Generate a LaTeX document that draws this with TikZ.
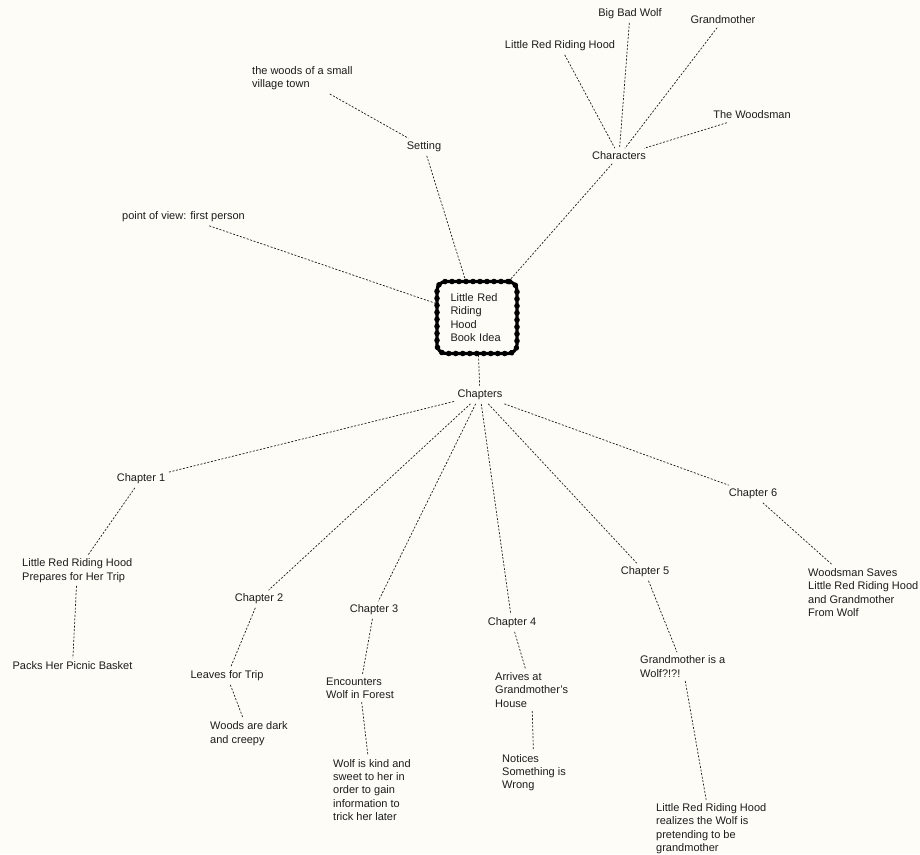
\documentclass[tikz,border=0pt]{standalone}
\usepackage{fontspec}
\setmainfont{Liberation Sans}
\usetikzlibrary{decorations.markings}
\definecolor{bgcream}{RGB}{253,252,246}
\definecolor{inkc}{RGB}{28,28,28}
\begin{document}
\begin{tikzpicture}[x=1pt,y=-1pt,
  every node/.style={font=\fontsize{11}{13.3}\selectfont, text=inkc, inner sep=3.5pt},
  ml/.style={align=left, anchor=west},
  link/.style={draw=inkc, line width=0.7pt, dash pattern=on 2pt off 1.6pt},
  bookidea/.style={draw=black, line width=3.2pt, rounded corners=9pt,
    minimum width=80pt, minimum height=72pt, text width=53pt, align=left, inner sep=0pt,
    postaction={decorate, decoration={markings,
      mark=between positions 0 and 1 step 7pt with {\fill[black] (0,0) circle (2.8pt);}}}}
]
\fill[bgcream] (0,0) rectangle (920,854);
\useasboundingbox (0,0) rectangle (920,854);

% centre
\node[bookidea] (book) at (477,317.5) {Little Red\\Riding\\Hood\\Book Idea};

% upper part
\node[ml] (woods) at (248.5,78.5) {the woods of a small\\village town};
\node (setting) at (424,147) {Setting};
\node (pov) at (183.5,217) {point of view: first person};
\node (lrrh) at (560,46) {Little Red Riding Hood};
\node (bbw) at (630,14) {Big Bad Wolf};
\node (gm) at (723,20) {Grandmother};
\node (woodsman) at (752,115) {The Woodsman};
\node (chars) at (619,156) {Characters};

% chapters
\node (chapters) at (480,395) {Chapters};
\node (ch1) at (141,479) {Chapter 1};
\node (ch2) at (259,599) {Chapter 2};
\node (ch3) at (374,610) {Chapter 3};
\node (ch4) at (512,623) {Chapter 4};
\node (ch5) at (645,572) {Chapter 5};
\node (ch6) at (753,494) {Chapter 6};

\node[ml] (prep) at (18.5,570.5) {Little Red Riding Hood\\Prepares for Her Trip};
\node (packs) at (72.5,666) {Packs Her Picnic Basket};
\node (leaves) at (227,676) {Leaves for Trip};
\node[ml] (dark) at (206.5,733.5) {Woods are dark\\and creepy};
\node[ml] (enc) at (322.5,688) {Encounters\\Wolf in Forest};
\node[ml] (kind) at (329.5,790) {Wolf is kind and\\sweet to her in\\order to gain\\information to\\trick her later};
\node[ml] (arr) at (491.5,690) {Arrives at\\Grandmother's\\House};
\node[ml] (notice) at (498.5,772.5) {Notices\\Something is\\Wrong};
\node[ml] (gmwolf) at (636.5,666.5) {Grandmother is a\\Wolf?!?!};
\node[ml] (real) at (652.5,828.5) {Little Red Riding Hood\\realizes the Wolf is\\pretending to be\\grandmother};
\node[ml] (saves) at (804.5,592.5) {Woodsman Saves\\Little Red Riding Hood\\and Grandmother\\From Wolf};

% connectors
\draw[link] (woods) -- (setting);
\draw[link] (setting) -- (book);
\draw[link] (pov) -- (book);
\draw[link] (chars) -- (book);
\draw[link] (lrrh) -- (chars);
\draw[link] (bbw) -- (chars);
\draw[link] (gm) -- (chars);
\draw[link] (woodsman) -- (chars);
\draw[link] (book) -- (chapters);
\draw[link] (chapters) -- (ch1);
\draw[link] (chapters) -- (ch2);
\draw[link] (chapters) -- (ch3);
\draw[link] (chapters) -- (ch4);
\draw[link] (chapters) -- (ch5);
\draw[link] (chapters) -- (ch6);
\draw[link] (ch1) -- (prep);
\draw[link] (prep) -- (packs);
\draw[link] (ch2) -- (leaves);
\draw[link] (leaves) -- (dark);
\draw[link] (ch3) -- (enc);
\draw[link] (enc) -- (kind);
\draw[link] (ch4) -- (arr);
\draw[link] (arr) -- (notice);
\draw[link] (ch5) -- (gmwolf);
\draw[link] (gmwolf) -- (real);
\draw[link] (ch6) -- (saves);
\end{tikzpicture}
\end{document}
